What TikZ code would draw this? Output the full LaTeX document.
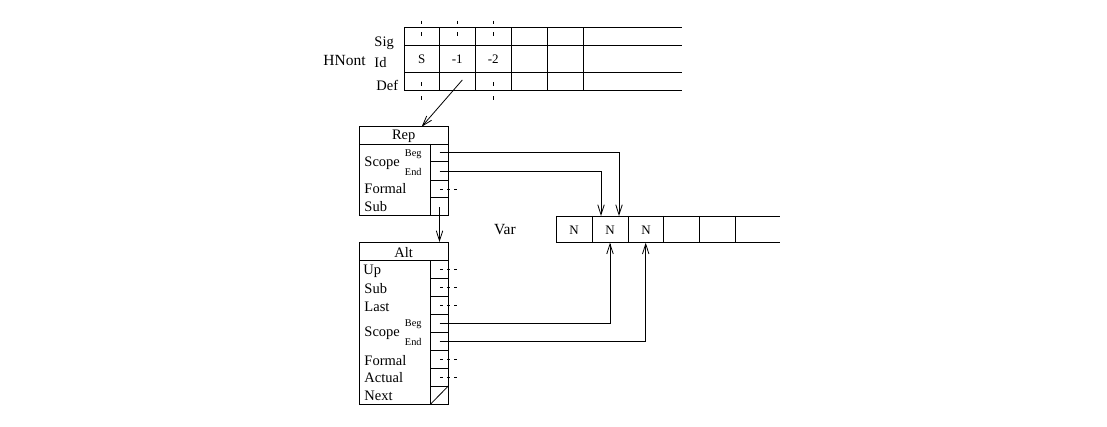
\documentclass[tikz,border=0pt]{standalone}
\usepackage{fontspec}
\setmainfont{Liberation Serif}
\usetikzlibrary{arrows.meta}

\begin{document}
\begin{tikzpicture}[x=1pt,y=-1pt,line width=0.95pt,
  tip/.style={-{Straight Barb[length=10pt,width=6.5pt,line width=0.8pt]}},
  lbl/.style={font=\fontsize{14.5}{17}\selectfont,inner sep=0pt},
  big/.style={font=\fontsize{15.5}{18}\selectfont,inner sep=0pt},
  cellt/.style={font=\fontsize{13}{15}\selectfont,inner sep=0pt},
  sml/.style={font=\fontsize{10.3}{12}\selectfont,inner sep=0pt,anchor=west},
  nil/.style={line width=0.75pt,dash pattern=on 3pt off 4pt},
  tick/.style={line width=0.75pt}]
\useasboundingbox (0,0) rectangle (1107,427);

% ---------- HNont table ----------
\foreach \y in {27.3,45,72.7,90} \draw (404,\y) -- (682,\y);
\foreach \x in {404,439.3,475.3,511.3,547.3,583.3} \draw (\x,27.3) -- (\x,90);
\node[big,anchor=base west] (hnont) at (323,65.5) {HNont};
\node[lbl,anchor=base west] (sig) at (374,46.5) {Sig};
\node[lbl,anchor=base west] (id) at (374,67.5) {Id};
\node[lbl,anchor=base west] (def) at (376,90.3) {Def};
\node[cellt] (hS) at (421.7,59.3) {S};
\node[cellt] (hM1) at (457.3,59.3) {-1};
\node[cellt] (hM2) at (493.3,59.3) {-2};
% interrupted column markers
\foreach \x/\y in {421.7/22.5,421.7/34,457.3/22.5,457.3/34,493.3/22.5,493.3/34,
                   421.7/84,421.7/98,493.3/84,493.3/98}
  \draw[tick] (\x,\y-1.8) -- (\x,\y+1.8);

% ---------- Rep record ----------
\draw (359,126.7) rectangle (448.3,215.7);
\draw (359,144) -- (448.3,144);
\draw (430.7,144) -- (430.7,215.7);
\foreach \y in {161.7,180,197.7} \draw (430.7,\y) -- (448.3,\y);
\node[lbl] (repH) at (403.7,136.5) {Rep};
\node[lbl,anchor=west] (repScope) at (364,163) {Scope};
\node[sml] (repBegT) at (404.5,154.5) {Beg};
\node[sml] (repEndT) at (404.5,172.2) {End};
\node[lbl,anchor=base west] (repFormal) at (364,194) {Formal};
\node[lbl,anchor=base west] (repSubT) at (364,212) {Sub};
\draw[nil] (440,189) -- (459,189);

% ---------- Alt record ----------
\draw (359,242) rectangle (448.3,404);
\draw (359,260.7) -- (448.3,260.7);
\draw (430.7,260.7) -- (430.7,404);
\foreach \y in {278.3,296.7,314.3,332.3,350,368.3,386} \draw (430.7,\y) -- (448.3,\y);
\node[lbl] (altH) at (403.7,252.5) {Alt};
\node[lbl,anchor=base west] (altUp) at (363,275) {Up};
\node[lbl,anchor=base west] (altSub) at (364,293.3) {Sub};
\node[lbl,anchor=base west] (altLast) at (364,311) {Last};
\node[lbl,anchor=west] (altScope) at (364,333.3) {Scope};
\node[sml] (altBegT) at (404.5,324.5) {Beg};
\node[sml] (altEndT) at (404.5,342.2) {End};
\node[lbl,anchor=base west] (altFormal) at (364,365) {Formal};
\node[lbl,anchor=base west] (altActual) at (364,382.5) {Actual};
\node[lbl,anchor=base west] (altNext) at (364,400.3) {Next};
\foreach \y in {269.5,287.5,305.5,359.2,377.2} \draw[nil] (440,\y) -- (459,\y);
\draw[line width=0.8pt] (430.7,404) -- (448.3,386);

% ---------- Var array ----------
\draw (556,216) -- (780,216);
\draw (556,242.7) -- (780,242.7);
\foreach \x in {556,592,628,663.7,699.7,735.7} \draw (\x,216) -- (\x,242.7);
\node[big] (var) at (505,229.8) {Var};
\node[cellt] (n1) at (574,229.8) {N};
\node[cellt] (n2) at (610,229.8) {N};
\node[cellt] (n3) at (646,229.8) {N};

% ---------- connectors ----------
\coordinate (hnDef) at (462.3,80);
\coordinate (repTop) at (421.7,126.7);
\coordinate (repBeg) at (439.5,152.8);
\coordinate (repEnd) at (439.5,171);
\coordinate (repSub) at (439.5,207.5);
\coordinate (altTop) at (439.5,242);
\coordinate (altBeg) at (439.5,323.3);
\coordinate (altEnd) at (439.5,341.3);
\coordinate (v2topA) at (601,216);
\coordinate (v2topB) at (619,216);
\coordinate (v2bot) at (610,242.7);
\coordinate (v3bot) at (645.7,242.7);

\draw[tip,line width=0.8pt] (hnDef) -- (repTop);
\draw[tip,line width=0.8pt] (repBeg) -| (v2topB);
\draw[tip,line width=0.8pt] (repEnd) -| (v2topA);
\draw[tip,line width=0.8pt] (repSub) -- (altTop);
\draw[tip,line width=0.8pt] (altBeg) -| (v2bot);
\draw[tip,line width=0.8pt] (altEnd) -| (v3bot);
\end{tikzpicture}
\end{document}
